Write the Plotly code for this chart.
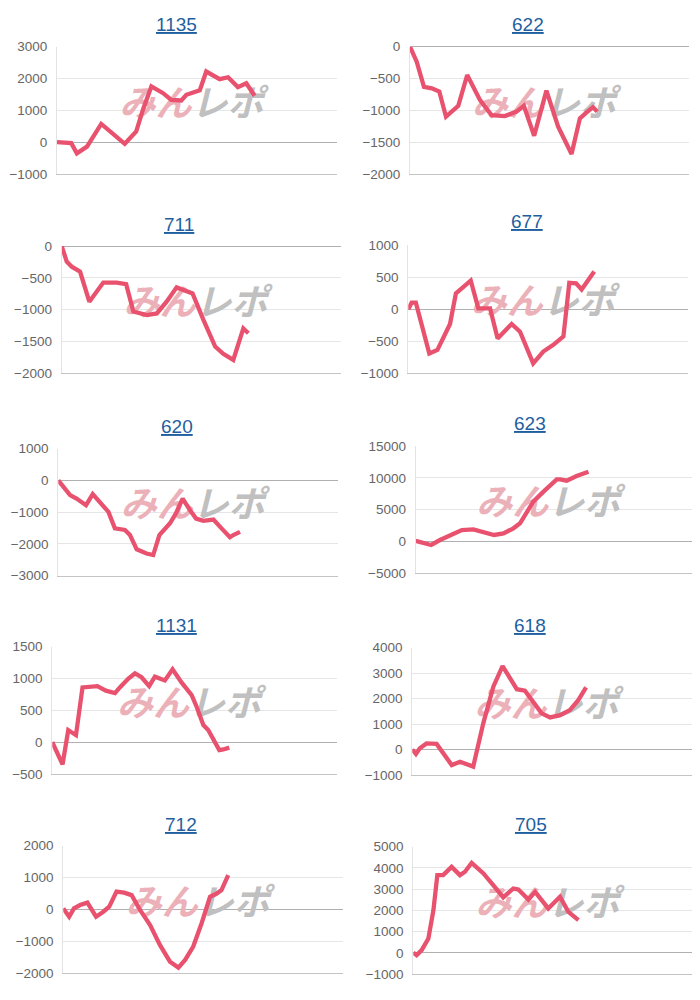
import plotly.graph_objects as go

# ---------------- data ----------------
titles = ["1135", "622", "711", "677", "620", "623", "1131", "618", "712", "705"]

x_1135 = [0, 5.1, 7.1, 10.7, 15.8, 20.0, 24.2, 28.3, 30.7, 33.7, 37.9, 40.8, 44.4, 46.2, 51.0, 53.3, 58.1, 61.1, 64.6, 67.6, 70.6]
y_1135 = [0, -30, -350, -140, 575, 280, -50, 340, 1020, 1750, 1540, 1330, 1310, 1490, 1630, 2220, 1980, 2040, 1730, 1850, 1460]

x_622 = [0, 2.4, 5.0, 7.8, 10.5, 12.9, 17.3, 20.5, 25.1, 29.2, 34.0, 38.2, 40.8, 44.5, 48.9, 53.1, 57.9, 60.9, 63.2, 65.6, 67.1]
y_622 = [0, -235, -630, -655, -705, -1100, -930, -445, -840, -1075, -1090, -1020, -930, -1400, -690, -1255, -1685, -1125, -1035, -950, -1020]

x_711 = [0, 1.8, 3.6, 6.6, 9.9, 14.9, 19.7, 23.1, 25.7, 30.5, 34.1, 37.6, 41.2, 44.2, 46.9, 50.8, 55.0, 57.9, 61.5, 65.1, 66.9]
y_711 = [0, -245, -325, -405, -875, -575, -575, -600, -1030, -1085, -1060, -875, -650, -700, -745, -1160, -1580, -1695, -1790, -1295, -1370]

x_677 = [0, 1.2, 2.7, 7.5, 10.4, 14.9, 17.0, 19.0, 22.3, 25.0, 29.2, 31.9, 36.9, 39.9, 44.6, 48.2, 51.8, 55.4, 57.5, 59.9, 61.9, 66.4]
y_677 = [0, 105, 105, -690, -635, -230, 250, 330, 450, 15, 15, -455, -230, -350, -845, -660, -555, -425, 415, 405, 310, 590]

x_620 = [0, 2.4, 4.2, 6.5, 9.9, 12.3, 14.9, 17.9, 20.2, 23.8, 25.6, 28.0, 31.5, 33.9, 36.1, 39.9, 42.0, 44.4, 47.0, 49.2, 51.8, 55.4, 58.3, 61.3, 62.5, 64.9]
y_620 = [0, -250, -460, -570, -780, -430, -670, -990, -1510, -1560, -1720, -2170, -2300, -2350, -1720, -1350, -1040, -570, -930, -1200, -1270, -1230, -1510, -1790, -1720, -1620]

x_623 = [0, 2.8, 5.6, 8.8, 12.4, 16.7, 20.9, 24.5, 28.4, 31.8, 35.4, 37.8, 40.2, 42.6, 46.3, 48.7, 51.1, 52.3, 54.7, 58.3, 62.6]
y_623 = [100, -200, -550, 230, 1020, 1800, 1910, 1540, 1020, 1280, 2070, 2850, 4530, 6250, 7830, 8870, 9760, 9760, 9550, 10290, 10970]

x_1131 = [0, 3.6, 5.6, 8.3, 10.6, 13.2, 15.8, 18.8, 22.0, 23.7, 26.7, 29.0, 31.3, 34.0, 36.0, 39.5, 42.2, 45.4, 48.9, 50.6, 53.0, 54.7, 58.6, 60.0, 62.1]
y_1131 = [0, -350, 190, 110, 860, 870, 880, 810, 770, 860, 1000, 1080, 1020, 880, 1030, 970, 1145, 935, 740, 560, 270, 190, -125, -115, -85]

x_618 = [0, 1.3, 2.7, 5.1, 8.7, 11.1, 14.1, 17.1, 19.4, 21.8, 25.4, 29.0, 32.3, 34.4, 37.4, 40.3, 43.3, 46.3, 49.3, 52.9, 56.4, 59.4, 62.2]
y_618 = [0, -170, 50, 240, 220, -150, -610, -480, -570, -670, 1030, 2470, 3280, 2930, 2370, 2310, 1840, 1420, 1260, 1350, 1550, 1940, 2440]

x_712 = [0, 2.1, 3.8, 6.0, 8.6, 11.7, 14.3, 16.4, 19.0, 21.7, 24.4, 27.4, 31.0, 34.5, 38.1, 41.1, 43.5, 46.4, 49.4, 52.4, 54.5, 56.5, 58.9]
y_712 = [35, -225, 35, 140, 215, -225, -70, 90, 560, 530, 450, -15, -485, -1110, -1635, -1820, -1580, -1160, -430, 400, 485, 610, 1080]

x_705 = [0, 1.2, 3.0, 5.4, 7.2, 8.6, 10.7, 13.7, 16.7, 18.5, 20.9, 25.1, 28.6, 32.2, 35.8, 37.6, 41.2, 43.6, 48.3, 52.5, 55.5, 59.1]
y_705 = [0, -110, 125, 675, 2010, 3660, 3660, 4050, 3660, 3820, 4240, 3740, 3190, 2610, 3030, 2980, 2510, 2870, 2090, 2640, 1930, 1540]

xs = [x_1135, x_622, x_711, x_677, x_620, x_623, x_1131, x_618, x_712, x_705]
ys = [y_1135, y_622, y_711, y_677, y_620, y_623, y_1131, y_618, y_712, y_705]

y_ranges = [(-1000, 3000), (-2000, 0), (-2000, 0), (-1000, 1000), (-3000, 1000),
            (-5000, 15000), (-500, 1500), (-1000, 4000), (-2000, 2000), (-1000, 5000)]
y_dticks = [1000, 500, 500, 500, 1000, 5000, 500, 1000, 1000, 1000]
x_range = (0, 100)

# ---------------- layout (pixel boxes, screen coordinates) ----------------
OFF = 8                      # page body margin the figure sits inside
W, H = 700 - OFF, 1000 - OFF
boxes = [  # left, right, top, bottom in screen px
    (57, 337, 46.7, 174), (410, 689, 46.7, 174),
    (61.7, 340.7, 246, 373.3), (408.3, 688.3, 245.3, 373.3),
    (58.3, 338.3, 448.7, 575.7), (415.7, 691.7, 446, 573.3),
    (52.3, 337.3, 646.7, 774), (412.3, 691.7, 647.7, 775),
    (63.3, 343.3, 845.7, 973.3), (413.3, 692.7, 846.7, 974),
]
title_pos = [(176, 25), (527.5, 25), (179, 224), (527, 222), (177, 426), (530, 423),
             (176, 625), (530, 625), (181, 824), (531, 824)]


def fx(px):
    return (px - OFF) / W


def fy(py):
    return 1 - (py - OFF) / H


LINE = "#e9526f"
FONT = "Liberation Sans, Arial, sans-serif"

fig = go.Figure()
layout = dict(template="none", width=W, height=H, autosize=False,
              margin=dict(l=0, r=0, t=0, b=0, pad=0),
              paper_bgcolor="white", plot_bgcolor="white", showlegend=False,
              font=dict(family=FONT), annotations=[])

for i in range(10):
    n = i + 1
    xa = "x" if n == 1 else f"x{n}"
    ya = "y" if n == 1 else f"y{n}"
    l, r, t, b = boxes[i]
    ymin, ymax = y_ranges[i]
    layout[f"xaxis{'' if n == 1 else n}"] = dict(
        domain=[fx(l), min(fx(r), 1.0)], range=list(x_range), anchor=ya, automargin=False,
        showgrid=False, zeroline=False, showticklabels=False, ticks="",
        showline=True, linecolor="#c4c4c4", linewidth=1, fixedrange=True)
    layout[f"yaxis{'' if n == 1 else n}"] = dict(
        domain=[fy(b), fy(t)], range=[ymin, ymax], anchor=xa, automargin=False,
        dtick=y_dticks[i], tick0=0, tickformat="d", exponentformat="none",
        showgrid=True, gridcolor="#e6e6e6", gridwidth=1,
        zeroline=True, zerolinecolor="#b0b0b0", zerolinewidth=1,
        showline=True, linecolor="#e3e3e3", linewidth=1, ticks="",
        ticklabelstandoff=6,
        tickfont=dict(family=FONT, size=13.5, color="#666666"), fixedrange=True)

    # watermark logo (behind line)
    fig.add_trace(go.Scatter(
        x=[x_range[0] + 0.48 * (x_range[1] - x_range[0])],
        y=[ymin + 0.53 * (ymax - ymin)],
        mode="text", xaxis=xa, yaxis=ya, hoverinfo="skip",
        text=['<span style="color:#ecb1b8">みん</span><span style="color:#c0c0c0">レポ</span>'],
        textfont=dict(family="Noto Sans CJK JP", size=36, weight="bold", style="italic"),
        textposition="middle center"))

    fig.add_trace(go.Scatter(
        x=xs[i], y=ys[i], mode="lines", xaxis=xa, yaxis=ya,
        line=dict(color=LINE, width=4.3), hoverinfo="skip"))

    tx, ty = title_pos[i]
    layout["annotations"].append(dict(
        text=f"<u>{titles[i]}</u>", x=fx(tx), y=fy(ty), xref="paper", yref="paper",
        xanchor="center", yanchor="middle", showarrow=False,
        font=dict(family=FONT, size=19, color="#1f5f9f")))

fig.update_layout(**layout)
fig.write_html("out.html")
